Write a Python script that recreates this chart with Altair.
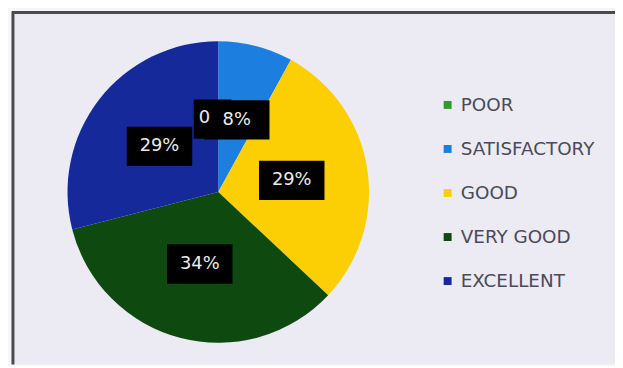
import altair as alt
import pandas as pd

categories = ["POOR", "SATISFACTORY", "GOOD", "VERY GOOD", "EXCELLENT"]
values = [0, 8, 29, 34, 29]
labels = ["0", "8%", "29%", "34%", "29%"]
colors = ["#2f9a2f", "#1c7fe0", "#fccf04", "#0e4a10", "#15299a"]

df = pd.DataFrame({
    "category": categories,
    "value": values,
    "label": labels,
    "order": list(range(len(categories))),
})

W, H = 612, 358
CX, CY = 212, 184
R = 152
RL = 75

base = alt.Chart(df)

bg = base.mark_rect(color="#ecebf3").encode(
    x=alt.value(5), x2=alt.value(W), y=alt.value(3), y2=alt.value(H)
).transform_filter("datum.order == 0")

frame_left = base.mark_rule(color="#4a4a4e", strokeWidth=3).encode(
    x=alt.value(5), y=alt.value(2), y2=alt.value(H)
).transform_filter("datum.order == 0")
frame_top = base.mark_rule(color="#4a4a4e", strokeWidth=3).encode(
    x=alt.value(4), x2=alt.value(W), y=alt.value(3)
).transform_filter("datum.order == 0")

pie = base.mark_arc(outerRadius=R).encode(
    theta=alt.Theta("value:Q", stack=True),
    order=alt.Order("order:Q"),
    color=alt.Color(
        "category:N",
        sort=categories,
        scale=alt.Scale(domain=categories, range=colors),
        legend=alt.Legend(
            title=None,
            orient="none",
            legendX=434,
            legendY=87,
            symbolType="square",
            symbolSize=64,
            symbolStrokeWidth=0,
            labelFont="DejaVu Sans",
            labelFontSize=18.5,
            labelColor="#4a4a58",
            labelOffset=4,
            rowPadding=25.4,
            padding=0,
        ),
    ),
    x=alt.value(CX),
    y=alt.value(CY),
)

pos = base.transform_window(
    cum="sum(value)", sort=[alt.SortField("order")], frame=[None, 0]
).transform_joinaggregate(
    total="sum(value)"
).transform_calculate(
    mid="2*PI*(datum.cum - datum.value/2)/datum.total"
).transform_calculate(
    lx=f"sin(datum.mid)*{RL}", ly=f"cos(datum.mid)*{RL}"
)

xenc = alt.X("lx:Q", scale=alt.Scale(domain=[-CX, W - CX]), axis=None)
yenc = alt.Y("ly:Q", scale=alt.Scale(domain=[-(H - CY), CY]), axis=None)

boxes = pos.mark_point(
    shape="M-1,-0.6H1V0.6H-1Z", filled=True, color="#000000", opacity=1, size=4356
).encode(x=xenc, y=yenc).transform_filter("datum.value > 0")

box0 = pos.mark_point(
    shape="M-0.75,-0.55H0.4V0.65H-0.75Z", filled=True, color="#000000", opacity=1, size=4356
).encode(x=xenc, y=yenc).transform_filter("datum.value == 0")

texts = pos.mark_text(
    font="DejaVu Sans", fontSize=18, color="#ececec", baseline="middle", align="center"
).encode(x=xenc, y=yenc, text="label:N").transform_filter("datum.value > 0")

text0 = pos.mark_text(
    font="DejaVu Sans", fontSize=18, color="#ececec", baseline="middle", align="center", dx=-14
).encode(x=xenc, y=yenc, text="label:N").transform_filter("datum.value == 0")

chart = alt.layer(
    bg, frame_left, frame_top, pie, boxes, box0, texts, text0
).properties(
    width=W, height=H, autosize=alt.AutoSizeParams(type="none"), padding=0,
    background="#f6f6f9",
).configure_view(stroke=None)

chart.save("out.html", embed_options={"renderer": "svg", "actions": False})
